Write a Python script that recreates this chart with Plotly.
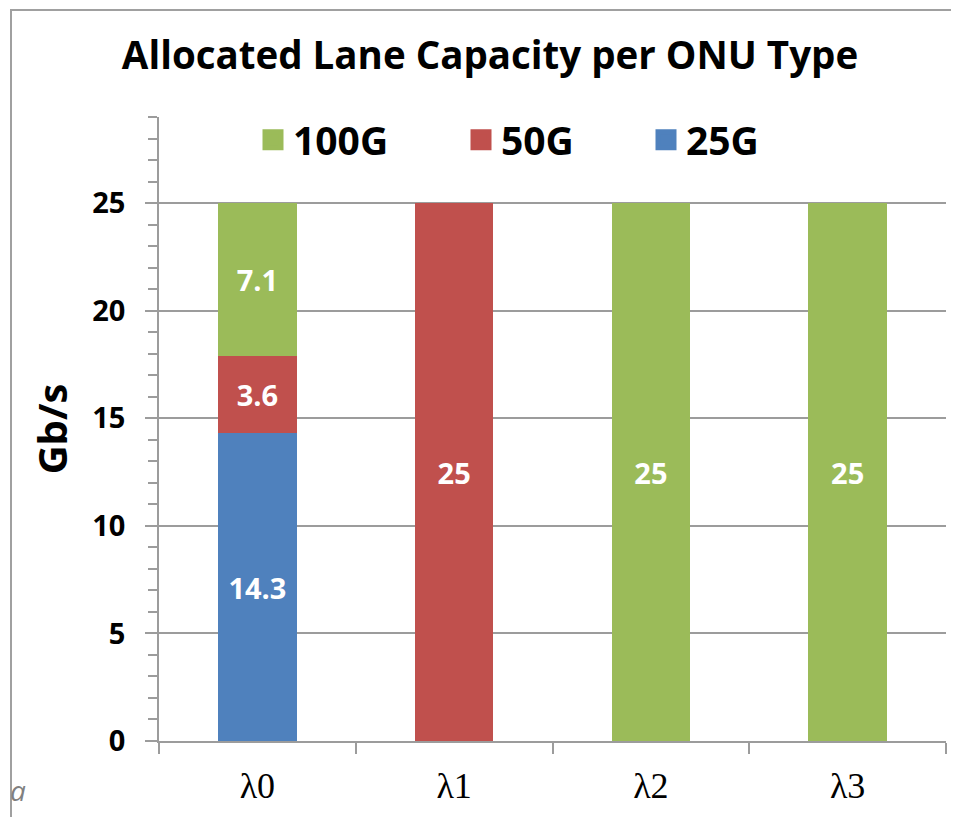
import plotly.graph_objects as go

categories = ["λ0", "λ1", "λ2", "λ3"]
series_names = ["100G", "50G", "25G"]
vals_25g = [14.3, 0, 0, 0]
vals_50g = [3.6, 25, 0, 0]
vals_100g = [7.1, 0, 25, 25]
labels_25g = ["14.3", "", "", ""]
labels_50g = ["3.6", "25", "", ""]
labels_100g = ["7.1", "", "25", "25"]
y_ticks = [0, 5, 10, 15, 20, 25]

colors = {"100G": "#9BBB59", "50G": "#C0504D", "25G": "#4F81BD"}

# page has an 8px body margin; figure is sized to fit the 959x817 window
OFF = 8
W, H = 959 - OFF, 817 - OFF
PL, PR, PT, PB = 159, 946, 117, 741          # plot area in page pixels
L, T = PL - OFF, PT - OFF
R, B = W - (PR - OFF), H - (PB - OFF)
PW, PH = PR - PL, PB - PT


def px_x(px):
    return (px - PL) / PW


def px_y(py):
    return (PB - py) / PH


FONT = "Open Sans"
GRID = "#9c9c9c"

fig = go.Figure()

for name, vals, labs in [("25G", vals_25g, labels_25g),
                         ("50G", vals_50g, labels_50g),
                         ("100G", vals_100g, labels_100g)]:
    fig.add_trace(go.Bar(
        x=categories, y=vals, name=name, marker_color=colors[name],
        marker_line_width=0, text=labs, textposition="inside",
        insidetextanchor="middle", textangle=0,
        textfont=dict(family=FONT, size=29, color="white", weight="bold"),
        showlegend=False, legendgroup=name, hoverinfo="x+y+name",
    ))

legend_ids = {"100G": "legend", "50G": "legend2", "25G": "legend3"}
legend_px = {"100G": 253, "50G": 461, "25G": 646}
for name in series_names:
    fig.add_trace(go.Scatter(
        x=[None], y=[None], mode="markers", name=name,
        marker=dict(symbol="square", size=16, color=colors[name],
                    line=dict(color=colors[name], width=5)),
        legend=legend_ids[name], legendgroup=name, showlegend=True,
    ))

legend_common = dict(orientation="h", yanchor="middle", xanchor="left",
                     bgcolor="rgba(0,0,0,0)",
                     font=dict(family=FONT, size=39, color="black", weight="bold"))
layout_legends = {}
for name in series_names:
    layout_legends[legend_ids[name]] = dict(
        x=px_x(legend_px[name]), y=px_y(140), **legend_common)

fig.update_layout(
    width=W, height=H,
    margin=dict(l=L, r=R, t=T, b=B, autoexpand=False),
    paper_bgcolor="white", plot_bgcolor="white",
    barmode="stack", bargap=0.6,
    title=dict(text="Allocated Lane Capacity per ONU Type",
               x=(490 - OFF) / W, xref="container", xanchor="center",
               y=1 - (56 - OFF) / H, yref="container", yanchor="middle",
               font=dict(family=FONT, size=38.5, color="black", weight="bold")),
    **layout_legends,
    xaxis=dict(
        showline=True, linecolor=GRID, linewidth=1.5,
        ticks="outside", tickson="boundaries", ticklen=11, tickcolor=GRID,
        tickwidth=1.5, showgrid=False,
        tickfont=dict(family="Liberation Serif", size=36, color="black"),
        ticklabelstandoff=12,
    ),
    yaxis=dict(
        range=[0, 29], tickvals=y_ticks, showline=True, linecolor=GRID,
        linewidth=1.5, ticks="outside", ticklen=12, tickcolor=GRID, tickwidth=1.5,
        showgrid=True, gridcolor=GRID, gridwidth=1.5, zeroline=False,
        minor=dict(dtick=1, ticks="outside", ticklen=9, tickcolor=GRID,
                   tickwidth=1.5, showgrid=False),
        tickfont=dict(family=FONT, size=29, color="black", weight="bold"),
        ticklabelstandoff=14,
        title=dict(text="Gb/s", standoff=12,
                   font=dict(family=FONT, size=40, color="black", weight="bold")),
    ),
    shapes=[dict(type="rect", xref="paper", yref="paper",
                 x0=px_x(11), x1=px_x(975), y0=px_y(830), y1=px_y(10),
                 line=dict(color="#a0a0a0", width=2), layer="below")],
    annotations=[dict(text="a", xref="paper", yref="paper",
                      x=px_x(OFF), y=px_y(790), xanchor="left", yanchor="middle",
                      showarrow=False,
                      font=dict(family=FONT, size=28, color="#808080", style="italic"))],
)

fig.write_html("out.html")
